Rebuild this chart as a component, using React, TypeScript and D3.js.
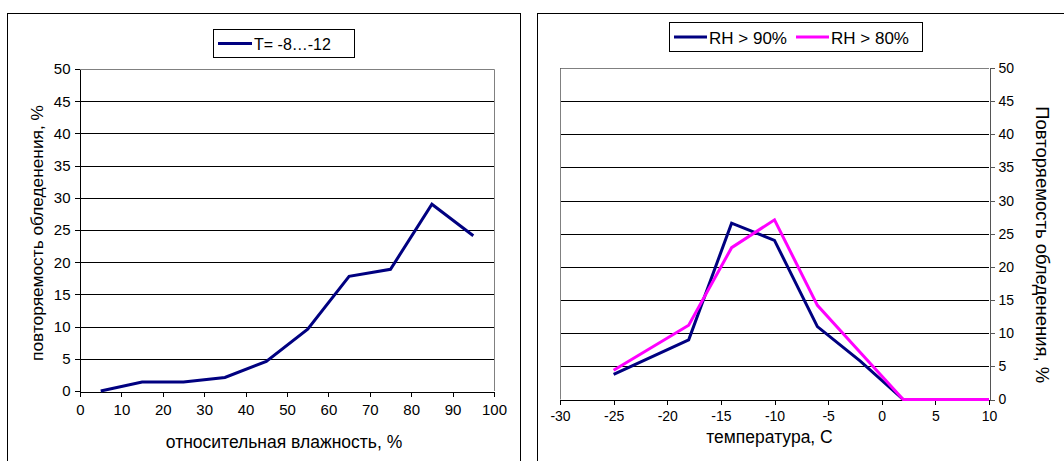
import React, { useEffect, useRef } from "react";
import * as d3 from "d3";

// left chart: icing frequency vs relative humidity (T = -8...-12)
const humidity = [5, 15, 25, 35, 45, 55, 65, 75, 85, 95];
const icingByHumidity = [0, 1.4, 1.4, 2.1, 4.6, 9.6, 17.8, 18.9, 29, 24.1];

// right chart: icing frequency vs temperature
const temperature = [-25, -18, -14, -10, -6, -2, 2, 10];
const rh90 = [3.8, 9.0, 26.6, 24.0, 11.0, 5.8, 0, 0];
const rh80 = [4.4, 11.2, 22.9, 27.1, 14.2, 7.1, 0, 0];

const yTicks = [0, 5, 10, 15, 20, 25, 30, 35, 40, 45, 50];
const humidityTicks = [0, 10, 20, 30, 40, 50, 60, 70, 80, 90, 100];
const tempTicks = [-30, -25, -20, -15, -10, -5, 0, 5, 10];

const NAVY = "#000080";
const MAGENTA = "#ff00ff";
const FONT = "'Liberation Sans', Arial, sans-serif";

type Pt = [number, number];

// plain hyphen for negatives, like the original
const fmt = (d: d3.NumberValue) => String(d);

const App: React.FC = () => {
    const svgRef = useRef<SVGSVGElement>(null);

    useEffect(() => {
        if (!svgRef.current) return;
        const svg = d3.select(svgRef.current);
        svg.selectAll("*").remove();
        svg.style("font-family", FONT);

        // ---------- LEFT CHART ----------
        svg.append("rect")
            .attr("x", 7.5).attr("y", 13.5)
            .attr("width", 513).attr("height", 480)
            .attr("fill", "#fff").attr("stroke", "#000");

        const xL = d3.scaleLinear().domain([0, 100]).range([80, 494]);
        const yL = d3.scaleLinear().domain([0, 50]).range([391, 69]);

        const gL = svg.append("g");
        // gridlines
        gL.append("g")
            .attr("transform", `translate(${xL(0)},0)`)
            .call(d3.axisRight(yL).tickValues(yTicks.slice(1)).tickSize(xL(100) - xL(0)).tickFormat(() => ""))
            .call(g => g.select(".domain").remove())
            .selectAll("line").attr("stroke", "#000").attr("shape-rendering", "crispEdges");
        // plot border top/right
        gL.append("path")
            .attr("d", `M${xL(0)},${yL(50) + 0.5}H${xL(100) + 0.5}V${yL(0)}`)
            .attr("fill", "none").attr("stroke", "#808080");

        const yAxL = gL.append("g")
            .attr("transform", `translate(${xL(0) - 0.5},0)`)
            .call(d3.axisLeft(yL).tickValues(yTicks).tickFormat(fmt).tickSize(5).tickPadding(4).tickSizeOuter(0));
        yAxL.selectAll("line, path").attr("stroke", "#000").attr("shape-rendering", "crispEdges");
        yAxL.selectAll("text").attr("fill", "#000").style("font-size", "15px").style("font-family", FONT);

        const xAxL = gL.append("g")
            .attr("transform", `translate(0,${yL(0) + 0.5})`)
            .call(d3.axisBottom(xL).tickValues(humidityTicks).tickFormat(fmt).tickSize(5).tickPadding(8).tickSizeOuter(0));
        xAxL.selectAll("line, path").attr("stroke", "#000").attr("shape-rendering", "crispEdges");
        xAxL.selectAll("text").attr("fill", "#000").style("font-size", "15px").style("font-family", FONT);

        const lineFn = d3.line<Pt>().x(d => d[0]).y(d => d[1]);
        gL.append("path")
            .datum(humidity.map((h, i) => [xL(h), yL(icingByHumidity[i])] as Pt))
            .attr("fill", "none").attr("stroke", NAVY).attr("stroke-width", 3)
            .attr("stroke-linejoin", "miter").attr("d", lineFn);

        gL.append("text")
            .attr("transform", `translate(37,${(yL(0) + yL(50)) / 2 + 3}) rotate(-90)`)
            .attr("text-anchor", "middle").attr("dominant-baseline", "central")
            .style("font-size", "17.3px").text("повторяемость обледенения, %");
        gL.append("text")
            .attr("x", (xL(0) + xL(100)) / 2 - 3).attr("y", 442)
            .attr("text-anchor", "middle").attr("dominant-baseline", "central")
            .style("font-size", "17.5px").text("относительная влажность, %");

        // legend
        gL.append("rect").attr("x", 213.5).attr("y", 29.5).attr("width", 141).attr("height", 28)
            .attr("fill", "#fff").attr("stroke", "#000");
        gL.append("line").attr("x1", 218).attr("x2", 252).attr("y1", 43.5).attr("y2", 43.5)
            .attr("stroke", NAVY).attr("stroke-width", 3);
        gL.append("text").attr("x", 254).attr("y", 44).attr("dominant-baseline", "central")
            .style("font-size", "16px").text("T= -8…-12");

        // ---------- RIGHT CHART ----------
        svg.append("rect")
            .attr("x", 537.5).attr("y", 13.5)
            .attr("width", 600).attr("height", 480)
            .attr("fill", "#fff").attr("stroke", "#000");

        const xR = d3.scaleLinear().domain([-30, 10]).range([560, 989]);
        const yR = d3.scaleLinear().domain([0, 50]).range([399.5, 68]);

        const gR = svg.append("g");
        gR.append("g")
            .attr("transform", `translate(${xR(-30)},0)`)
            .call(d3.axisRight(yR).tickValues(yTicks.slice(1)).tickSize(xR(10) - xR(-30)).tickFormat(() => ""))
            .call(g => g.select(".domain").remove())
            .selectAll("line").attr("stroke", "#000").attr("shape-rendering", "crispEdges");
        gR.append("path")
            .attr("d", `M${xR(-30) + 0.5},${yR(0)}V${yR(50) + 0.5}H${xR(10)}`)
            .attr("fill", "none").attr("stroke", "#808080");

        const yAxR = gR.append("g")
            .attr("transform", `translate(${xR(10) + 0.5},0)`)
            .call(d3.axisRight(yR).tickValues(yTicks).tickFormat(fmt).tickSize(5).tickPadding(4).tickSizeOuter(0));
        yAxR.selectAll("line, path").attr("stroke", "#555").attr("shape-rendering", "crispEdges");
        yAxR.selectAll("text").attr("fill", "#000").style("font-size", "14px").style("font-family", FONT);

        const xAxR = gR.append("g")
            .attr("transform", `translate(0,${yR(0) + 0.5})`)
            .call(d3.axisBottom(xR).tickValues(tempTicks).tickFormat(fmt).tickSize(5).tickPadding(6).tickSizeOuter(0));
        xAxR.selectAll("line, path").attr("stroke", "#000").attr("shape-rendering", "crispEdges");
        xAxR.selectAll("text").attr("fill", "#000").style("font-size", "14px").style("font-family", FONT);

        gR.append("path")
            .datum(temperature.map((t, i) => [xR(t), yR(rh90[i])] as Pt))
            .attr("fill", "none").attr("stroke", NAVY).attr("stroke-width", 3).attr("d", lineFn);
        gR.append("path")
            .datum(temperature.map((t, i) => [xR(t), yR(rh80[i])] as Pt))
            .attr("fill", "none").attr("stroke", MAGENTA).attr("stroke-width", 3).attr("d", lineFn);

        gR.append("text")
            .attr("transform", `translate(1042,${(yR(0) + yR(50)) / 2 + 11}) rotate(90)`)
            .attr("text-anchor", "middle").attr("dominant-baseline", "central")
            .style("font-size", "18.5px").text("Повторяемость обледенения, %");
        gR.append("text")
            .attr("x", (xR(-30) + xR(10)) / 2 - 5).attr("y", 437)
            .attr("text-anchor", "middle").attr("dominant-baseline", "central")
            .style("font-size", "17.5px").text("температура, С");

        // legend
        gR.append("rect").attr("x", 669.5).attr("y", 22.5).attr("width", 253).attr("height", 29)
            .attr("fill", "#fff").attr("stroke", "#000");
        const legendItems = [
            { label: "RH > 90%", color: NAVY, x: 674 },
            { label: "RH > 80%", color: MAGENTA, x: 796 },
        ];
        legendItems.forEach(it => {
            gR.append("line").attr("x1", it.x).attr("x2", it.x + 33).attr("y1", 37).attr("y2", 37)
                .attr("stroke", it.color).attr("stroke-width", 3);
            gR.append("text").attr("x", it.x + 35).attr("y", 38).attr("dominant-baseline", "central")
                .style("font-size", "17px").text(it.label);
        });
    }, []);

    return (
        <svg ref={svgRef} width={1064} height={461}
            style={{ position: "absolute", left: 0, top: 0, display: "block" }} />
    );
};

export default App;
